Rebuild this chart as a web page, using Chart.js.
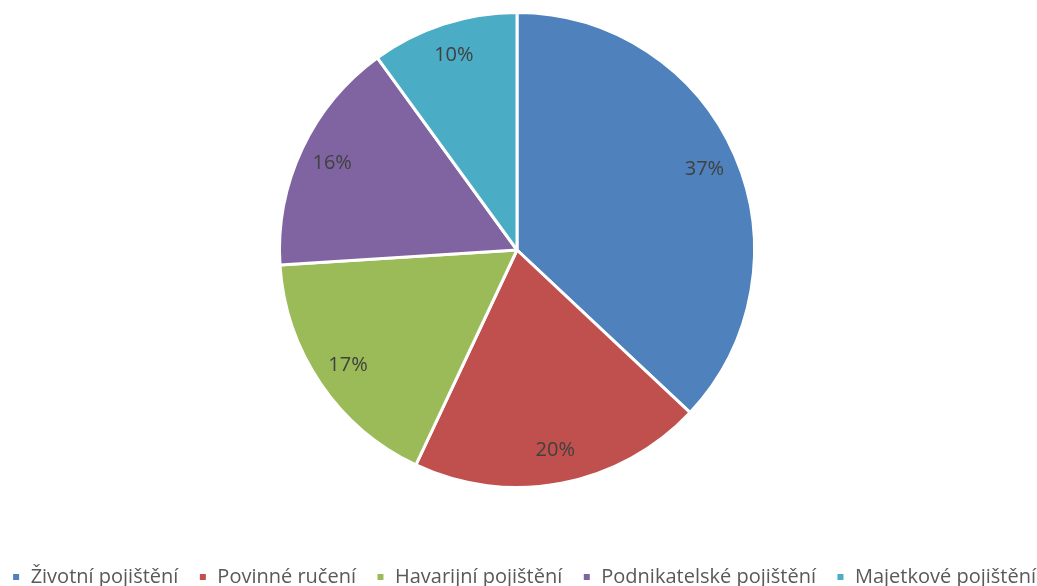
<!DOCTYPE html>
<html>
<head>
<meta charset="utf-8">
<script src="https://cdn.jsdelivr.net/npm/chart.js@4/dist/chart.umd.min.js"></script>
<style>
  html, body { margin: 0; padding: 0; background: #fff; overflow: hidden; }
  /* canvas a bit wider than the window so the legend fits in one row */
  #wrap { width: 1080px; height: 597px; margin-left: -22px; }
</style>
</head>
<body>
<div id="wrap"><canvas id="pieChart"></canvas></div>
<script>
const categories = ['Životní pojištění', 'Povinné ručení', 'Havarijní pojištění', 'Podnikatelské pojištění', 'Majetkové pojištění'];
const shares = [37, 20, 17, 16, 10];
const sliceColors = ['#4F81BD', '#C0504D', '#9BBB59', '#8064A2', '#4BACC6'];

// draws the percentage inside each slice
const sliceLabels = {
    id: 'sliceLabels',
    afterDatasetsDraw(chart) {
        const ctx = chart.ctx;
        const meta = chart.getDatasetMeta(0);
        ctx.save();
        ctx.font = '20px "Open Sans", sans-serif';
        ctx.fillStyle = '#404040';
        ctx.textAlign = 'center';
        ctx.textBaseline = 'middle';
        meta.data.forEach((arc, i) => {
            const p = arc.getProps(['x', 'y', 'startAngle', 'endAngle', 'outerRadius'], true);
            const mid = (p.startAngle + p.endAngle) / 2;
            const r = p.outerRadius * 0.86;
            ctx.fillText(shares[i] + '%', p.x + Math.cos(mid) * r, p.y + Math.sin(mid) * r);
        });
        ctx.restore();
    }
};

document.addEventListener('DOMContentLoaded', function() {
    const ctx = document.getElementById('pieChart').getContext('2d');
    new Chart(ctx, {
        type: 'pie',
        data: {
            labels: categories,
            datasets: [{
                data: shares,
                backgroundColor: sliceColors,
                borderColor: '#FFFFFF',
                borderWidth: 3
            }]
        },
        options: {
            responsive: true,
            maintainAspectRatio: false,
            animation: false,
            layout: {
                padding: { top: 11, right: 2 }
            },
            plugins: {
                tooltip: { enabled: false },
                legend: {
                    position: 'bottom',
                    align: 'end',
                    title: {
                        display: true,
                        text: ' ',
                        font: { size: 10 },
                        padding: { top: 46, bottom: 0 }
                    },
                    labels: {
                        boxWidth: 9,
                        boxHeight: 9,
                        padding: 20,
                        color: '#595959',
                        font: {
                            family: '"Open Sans", sans-serif',
                            size: 20
                        }
                    }
                }
            }
        },
        plugins: [sliceLabels]
    });
});
</script>
</body>
</html>
